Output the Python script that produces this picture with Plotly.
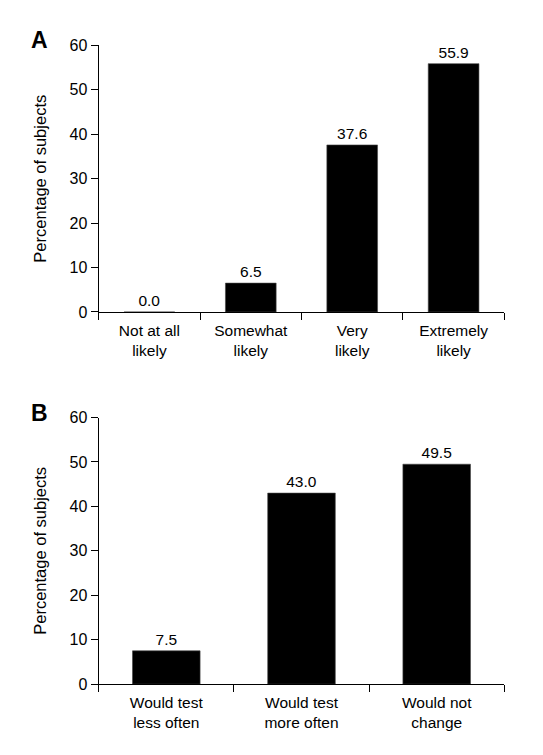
import plotly.graph_objects as go
from plotly.subplots import make_subplots

# Panel A data
cats_a = ["Not at all<br>likely", "Somewhat<br>likely", "Very<br>likely", "Extremely<br>likely"]
vals_a = [0.0, 6.5, 37.6, 55.9]

# Panel B data
cats_b = ["Would test<br>less often", "Would test<br>more often", "Would not<br>change"]
vals_b = [7.5, 43.0, 49.5]

y_ticks = [0, 10, 20, 30, 40, 50, 60]
y_title = "Percentage of subjects"

FONT = "Liberation Sans, Arial, Helvetica, sans-serif"
W, H = 543, 755

fig = make_subplots(rows=2, cols=1)

for row, cats, vals in [(1, cats_a, vals_a), (2, cats_b, vals_b)]:
    fig.add_trace(go.Bar(
        x=cats, y=vals,
        marker=dict(color="black", line=dict(color="#444", width=0.6)),
        texttemplate="%{y:.1f}", textposition="outside",
        textfont=dict(family=FONT, size=15.5, color="black"),
        cliponaxis=False, showlegend=False,
    ), row=row, col=1)

def px_x(x):
    return x / W

def px_y(y):
    return (H - y) / H

x_dom = [px_x(98.7), px_x(504.3)]
fig.update_layout(
    width=W, height=H,
    margin=dict(l=0, r=0, t=0, b=0),
    paper_bgcolor="white", plot_bgcolor="white",
    bargap=0.5,
    font=dict(family=FONT, size=15, color="black"),
    xaxis=dict(domain=x_dom, anchor="y"),
    yaxis=dict(domain=[px_y(311), px_y(38.3)], anchor="x"),
    xaxis2=dict(domain=x_dom, anchor="y2"),
    yaxis2=dict(domain=[px_y(691.7), px_y(419)], anchor="x2"),
)

for ax in ["xaxis", "xaxis2"]:
    fig.update_layout({ax: dict(
        showline=True, linecolor="black", linewidth=1.3,
        ticks="outside", ticklen=7, tickwidth=1.3, tickcolor="black",
        tickson="boundaries", showgrid=False, zeroline=False,
        ticklabelstandoff=4,
        tickfont=dict(family=FONT, size=15.5, color="black"),
    )})
for ax in ["yaxis", "yaxis2"]:
    fig.update_layout({ax: dict(
        range=[0, 60], tickvals=y_ticks, showline=True, linecolor="black", linewidth=1.3,
        ticks="outside", ticklen=7, tickwidth=1.3, tickcolor="black",
        showgrid=False, zeroline=False,
        tickfont=dict(family=FONT, size=16, color="black"),
        title=dict(text=y_title, font=dict(family=FONT, size=16.5, color="black"), standoff=18),
    )})

fig.add_annotation(text="<b>A</b>", xref="paper", yref="paper", x=px_x(29), y=px_y(32.5),
                   xanchor="left", yanchor="middle", showarrow=False,
                   font=dict(family=FONT, size=23, color="black"))
fig.add_annotation(text="<b>B</b>", xref="paper", yref="paper", x=px_x(29), y=px_y(414),
                   xanchor="left", yanchor="middle", showarrow=False,
                   font=dict(family=FONT, size=23, color="black"))

fig.write_html("out.html", config={"displayModeBar": False},
               post_script="document.body.style.margin='0';")
